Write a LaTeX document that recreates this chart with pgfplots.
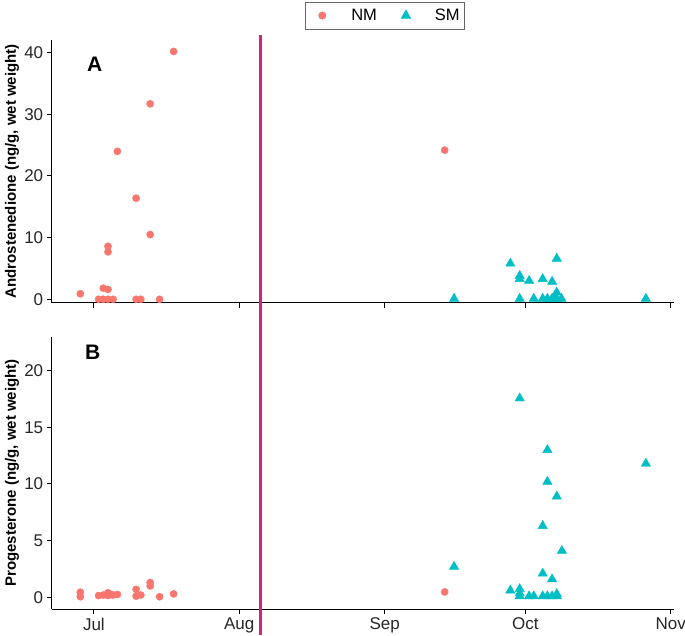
\documentclass[border=0pt]{standalone}
\usepackage{pgfplots}
\pgfplotsset{compat=1.18}
\usepackage{fontspec}
\setmainfont{Liberation Sans}
\definecolor{nm}{HTML}{F8766D}
\definecolor{sm}{HTML}{00BFC4}
\definecolor{vline}{RGB}{208,36,128}

\pgfplotstableread{
x y
-2.9 0.9
1 0
2 0
3 0
4.1 0
9 0
10 0
14 0
2 1.8
3 1.6
3 8.6
3 7.7
5 24.0
9 16.4
12 10.5
12 31.7
17 40.2
74.8 24.2
}\anm

\pgfplotstableread{
x y
76.8 0.1
88.8 5.8
90.8 3.8
90.8 3.3
92.8 3.0
95.7 3.3
97.7 2.85
98.7 6.6
98.7 1.1
90.8 0.1
93.8 0.1
95.7 0.1
96.7 0.1
97.7 0.1
98.7 0.1
99.7 0.1
98.2 0.5
117.7 0.1
}\asm

\pgfplotstableread{
x y
-2.9 0.45
-2.9 0.05
1 0.15
2 0.2
3 0.4
3 0.15
3.6 0.25
4.1 0.2
5 0.25
9 0.7
9 0.1
10 0.2
12 1.3
12 1.0
14 0.05
17 0.3
74.8 0.47
}\bnm

\pgfplotstableread{
x y
90.8 17.56
96.7 13.0
117.7 11.8
96.7 10.2
98.7 8.9
95.7 6.3
99.8 4.1
76.8 2.7
95.7 2.1
97.7 1.6
88.8 0.6
90.8 0.73
90.8 0.35
90.8 0.1
92.8 0.1
93.8 0.1
95.7 0.1
96.7 0.1
97.7 0.1
98.7 0.1
98.7 0.3
}\bsm

\pgfplotsset{
  panel/.style={
    scale only axis,
    width=622.3pt,
    xmin=-9, xmax=123.7,
    axis x line=bottom, axis y line=left,
    axis line style={-, line width=1.1pt, black},
    tick style={line width=1pt, black},
    major tick length=5pt,
    tick align=outside,
    xtick={0,31,62,92,123},
    tick label style={font=\fontsize{17}{20}\selectfont, text=black!85},
    /pgf/number format/assume math mode=true,
    ylabel style={at={(axis description cs:-0.0638,0.5)}, anchor=center, font=\bfseries\fontsize{15}{18}\selectfont},
    clip=false,
  },
  nmstyle/.style={only marks, mark=*, mark size=3.6pt, color=nm, mark options={draw=none, fill=nm},
    legend image code/.code={\path[draw=none,fill=none] (-14pt,0pt) -- (27pt,0pt); \path[##1, draw=none] plot coordinates {(0pt,0pt)};}},
  smstyle/.style={only marks, mark=triangle*, mark size=5.4pt, color=sm, mark options={draw=none, fill=sm},
    legend image code/.code={\path[draw=none,fill=none] (-14pt,0pt) -- (27pt,0pt); \path[##1, draw=none] plot coordinates {(0pt,0pt)};}},
}

\begin{document}
\begin{tikzpicture}
\useasboundingbox (0pt,0pt) rectangle (685pt,636pt);

\begin{axis}[panel,
  at={(51.7pt,333.3pt)}, anchor=south west,
  height=262.7pt,
  ymin=-0.55, ymax=42.06,
  ytick={0,10,20,30,40},
  xticklabels={},
  ylabel={Androstenedione (ng/g, wet weight)},
  legend style={at={(axis description cs:0.5356,1.093)}, anchor=center,
    draw=black!60, line width=0.7pt, legend columns=2, inner ysep=5pt,
    font=\fontsize{16.5}{19}\selectfont, text=black,
    /tikz/every even column/.append style={column sep=13pt}},
]
\addplot[nmstyle] table[x=x,y=y] {\anm};
\addlegendentry{NM}
\addplot[smstyle] table[x=x,y=y] {\asm};
\addlegendentry{SM}
\node[font=\bfseries\fontsize{21}{24}\selectfont, anchor=north west, inner sep=0pt] at (axis description cs:0.0567,0.935) {A};
\end{axis}

\begin{axis}[panel,
  at={(51.7pt,26.7pt)}, anchor=south west,
  height=272.6pt,
  ymin=-1.06, ymax=23.0,
  ytick={0,5,10,15,20},
  xticklabels={Jul,Aug,Sep,Oct,Nov},
  ylabel={Progesterone (ng/g, wet weight)},
]
\addplot[nmstyle] table[x=x,y=y] {\bnm};
\addplot[smstyle] table[x=x,y=y] {\bsm};
\node[font=\bfseries\fontsize{21}{24}\selectfont, anchor=north west, inner sep=0pt] at (axis description cs:0.0535,0.9696) {B};
\draw[vline, line width=2.6pt] (axis cs:35.5,-3.3) -- (axis cs:35.5,49.6);
\end{axis}
\end{tikzpicture}
\end{document}
